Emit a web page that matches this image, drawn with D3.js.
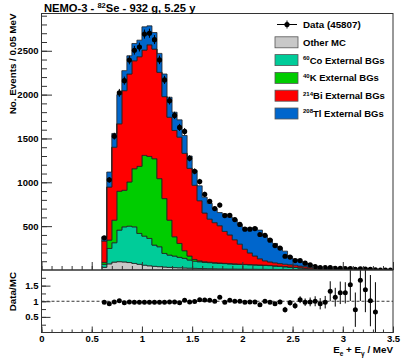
<!DOCTYPE html>
<html>
<head>
<meta charset="utf-8">
<script src="https://cdn.jsdelivr.net/npm/d3@7"></script>
<style>
  body { margin: 0; background: #fff; }
  svg text { font-family: "Liberation Sans", Arial, Helvetica, sans-serif; font-weight: bold; fill: #000; }
</style>
</head>
<body>
<div id="chart"></div>
<script>
// ビンの下端 (MeV), 幅 0.05
const binWidth = 0.05;
const binLow = [0.60, 0.65, 0.70, 0.75, 0.80, 0.85, 0.90, 0.95, 1.00, 1.05,
                1.10, 1.15, 1.20, 1.25, 1.30, 1.35, 1.40, 1.45, 1.50, 1.55,
                1.60, 1.65, 1.70, 1.75, 1.80, 1.85, 1.90, 1.95, 2.00, 2.05,
                2.10, 2.15, 2.20, 2.25, 2.30, 2.35, 2.40, 2.45, 2.50, 2.55,
                2.60, 2.65, 2.70, 2.75, 2.80, 2.85, 2.90, 2.95, 3.00, 3.05,
                3.10, 3.15, 3.20, 3.25, 3.30, 3.35, 3.40, 3.45];

// MC の各成分 (積み上げ前)
const otherMC = [30, 70, 90, 95, 92, 85, 75, 65, 55, 48,
                 42, 38, 34, 30, 27, 25, 23, 21, 19, 17,
                 16, 15, 14, 13, 12, 11, 11, 10, 10, 9,
                 9, 8, 8, 7, 7, 6, 6, 5, 5, 4,
                 4, 3, 3, 2, 2, 2, 1, 1, 1, 1,
                 1, 0, 0, 0, 0, 0, 0, 0];
const co60 = [35, 176, 221, 360, 400, 415, 417, 352, 331, 312,
              242, 227, 155, 140, 132, 119, 110, 93, 81, 77,
              72, 69, 66, 63, 61, 59, 56, 54, 52, 51,
              49, 48, 45, 43, 39, 36, 31, 28, 24, 20,
              15, 11, 6, 3, 1, 0, 0, 0, 0, 0,
              0, 0, 0, 0, 0, 0, 0, 0];
const k40 = [22, 95, 257, 443, 417, 504, 663, 765, 921, 935,
             985, 777, 625, 398, 220, 159, 87, 45, 20, 10,
             6, 5, 4, 4, 3, 3, 3, 3, 2, 2,
             2, 2, 2, 2, 2, 2, 2, 1, 1, 1,
             1, 1, 1, 1, 0, 0, 0, 0, 0, 0,
             0, 0, 0, 0, 0, 0, 0, 0];
const bi214 = [243, 605, 832, 769, 1136, 1231, 1231, 1250, 1201, 1273,
               1250, 1212, 1163, 1174, 1212, 1212, 1110, 1000, 846, 686,
               556, 491, 456, 425, 364, 327, 275, 228, 173, 133,
               100, 70, 50, 40, 34, 29, 27, 26, 25, 20,
               18, 15, 12, 10, 7, 4, 3, 2, 1, 1,
               1, 1, 1, 1, 1, 0, 0, 0];
const tl208 = [48, 171, 157, 333, 228, 208, 197, 189, 265, 216,
               189, 216, 258, 228, 208, 197, 204, 141, 170, 170,
               180, 180, 160, 150, 200, 205, 230, 225, 243, 280,
               322, 327, 290, 258, 221, 182, 149, 95, 70, 57,
               42, 30, 18, 14, 18, 14, 14, 12, 11, 9,
               7, 7, 6, 5, 4, 4, 3, 2];

// データ
const dataCounts = [367, 1028, 1526, 2020, 2159, 2394, 2506, 2542, 2690, 2700,
                    2627, 2396, 2168, 1931, 1763, 1626, 1580, 1274, 1125, 1008,
                    863, 783, 700, 740, 621, 623, 575, 520, 466, 466,
                    472, 405, 395, 340, 279, 250, 157, 147, 108, 107,
                    78, 59, 40, 28, 27, 26, 20, 19, 17, 17,
                    7, 13, 10, 6, 3, 0, 0, 0];

// Data/MC 比 (最初の 55 ビン)
const ratioVals = [0.97, 0.92, 0.98, 1.02, 0.95, 0.98, 0.97, 0.97, 0.97, 0.97,
                   0.97, 0.97, 0.97, 0.98, 0.98, 0.95, 1.03, 0.98, 0.99, 1.05,
                   1.04, 1.03, 1.00, 1.13, 0.97, 1.03, 1.00, 1.00, 0.97, 0.98,
                   0.98, 0.89, 1.00, 0.97, 0.92, 0.98, 0.73, 0.95, 0.86, 1.05,
                   0.97, 0.98, 1.00, 0.92, 0.97, 1.32, 1.13, 1.27, 1.27, 1.53,
                   0.73, 1.67, 1.37, 1.02, 0.66];
const ratioErr = [0.05, 0.03, 0.03, 0.03, 0.03, 0.03, 0.03, 0.03, 0.03, 0.03,
                  0.03, 0.03, 0.03, 0.03, 0.03, 0.03, 0.03, 0.03, 0.03, 0.03,
                  0.03, 0.03, 0.03, 0.03, 0.03, 0.03, 0.03, 0.03, 0.05, 0.05,
                  0.05, 0.05, 0.05, 0.06, 0.06, 0.07, 0.09, 0.09, 0.10, 0.11,
                  0.12, 0.14, 0.16, 0.18, 0.20, 0.32, 0.30, 0.36, 0.34, 0.52,
                  0.55, 0.66, 0.72, 0.82, 0.95];

const xTicks = [0, 0.5, 1, 1.5, 2, 2.5, 3, 3.5];
const yTicks = [500, 1000, 1500, 2000, 2500];
const rTicks = [0.5, 1, 1.5];

const legendSup = ["", "60", "40", "214", "208"];
const legendText = ["Other MC", "Co External BGs", "K External BGs", "Bi External BGs", "Tl External BGs"];
const keys = ["other", "co", "k", "bi", "tl"];
const colors = { other: "#c8c8c8", co: "#00cc99", k: "#00cc00", bi: "#ff0000", tl: "#0066cc" };

function drawChart() {
    const W = 415, H = 360;
    const left = 41.5, right = 393;
    const mainTop = 13.5, mainBottom = 270, ratioBottom = 332.5;

    const svg = d3.select("#chart").append("svg")
                  .attr("width", W).attr("height", H);

    const x = d3.scaleLinear().domain([0, 3.5]).range([left, right]);
    const y = d3.scaleLinear().domain([0, 2925]).range([mainBottom, mainTop]);
    const r = d3.scaleLinear().domain([0, 2]).range([ratioBottom, mainBottom]);

    const defs = svg.append("defs");
    defs.append("clipPath").attr("id", "clipMain")
        .append("rect").attr("x", left).attr("y", mainTop)
        .attr("width", right - left).attr("height", mainBottom - mainTop);
    defs.append("clipPath").attr("id", "clipRatio")
        .append("rect").attr("x", left).attr("y", mainBottom)
        .attr("width", right - left).attr("height", ratioBottom - mainBottom);

    // 積み上げヒストグラム
    const rows = binLow.map((b, i) => ({
        other: otherMC[i], co: co60[i], k: k40[i], bi: bi214[i], tl: tl208[i]
    }));
    const series = d3.stack().keys(keys)(rows);

    const area = d3.area()
                   .x(d => x(d.x))
                   .y0(d => y(d.y0))
                   .y1(d => y(d.y1))
                   .curve(d3.curveStepAfter);

    const gMain = svg.append("g").attr("clip-path", "url(#clipMain)");
    series.forEach(s => {
        const pts = s.map((d, i) => ({ x: binLow[i], y0: d[0], y1: d[1] }));
        const last = pts[pts.length - 1];
        pts.push({ x: last.x + binWidth, y0: last.y0, y1: last.y1 });
        gMain.append("path")
             .attr("d", area(pts))
             .attr("fill", colors[s.key])
             .attr("stroke", "#222")
             .attr("stroke-width", 0.8);
    });

    // データ点
    const pts = gMain.selectAll("g.data")
                     .data(dataCounts.map((v, i) => ({ c: binLow[i] + binWidth / 2, v: v })))
                     .enter().append("g").attr("class", "data");
    pts.append("line")
       .attr("x1", d => x(d.c)).attr("x2", d => x(d.c))
       .attr("y1", d => y(d.v + Math.sqrt(d.v)))
       .attr("y2", d => y(Math.max(0, d.v - Math.sqrt(d.v))))
       .attr("stroke", "#000").attr("stroke-width", 1);
    pts.append("circle")
       .attr("cx", d => x(d.c)).attr("cy", d => y(d.v))
       .attr("r", 2.6).attr("fill", "#000");

    // 比のパネル
    const gRatio = svg.append("g").attr("clip-path", "url(#clipRatio)");
    gRatio.append("line")
          .attr("x1", left).attr("x2", right)
          .attr("y1", r(1)).attr("y2", r(1))
          .attr("stroke", "#000").attr("stroke-width", 0.8)
          .attr("stroke-dasharray", "3,2");
    const rp = gRatio.selectAll("g.ratio")
                     .data(ratioVals.map((v, i) => ({ c: binLow[i] + binWidth / 2, v: v, e: ratioErr[i] })))
                     .enter().append("g").attr("class", "ratio");
    rp.append("line")
      .attr("x1", d => x(d.c)).attr("x2", d => x(d.c))
      .attr("y1", d => r(d.v + d.e)).attr("y2", d => r(d.v - d.e))
      .attr("stroke", "#000").attr("stroke-width", 1);
    rp.append("circle")
      .attr("cx", d => x(d.c)).attr("cy", d => r(d.v))
      .attr("r", 2.5).attr("fill", "#000");

    // 軸 (目盛りは内側)
    const fmt = d => String(d);
    const xMinor = d3.range(0, 36).map(i => i / 10);
    const yMinor = d3.range(100, 2925, 100);
    const rMinor = [0.25, 0.5, 0.75, 1, 1.25, 1.5, 1.75];

    function styleAxis(g) {
        g.select(".domain").remove();
        g.selectAll("line").attr("stroke", "#333");
        g.selectAll("text").attr("font-size", "9.5px").attr("fill", "#000");
    }

    svg.append("g").attr("transform", `translate(${left},0)`)
       .call(d3.axisLeft(y).tickValues(yMinor).tickSize(-5.5).tickFormat(""))
       .call(styleAxis);
    svg.append("g").attr("transform", `translate(${left},0)`)
       .call(d3.axisLeft(y).tickValues(yTicks).tickSize(-10.5).tickPadding(3).tickFormat(fmt))
       .call(styleAxis);

    svg.append("g").attr("transform", `translate(0,${mainBottom})`)
       .call(d3.axisBottom(x).tickValues(xMinor).tickSize(-4).tickFormat(""))
       .call(styleAxis);
    svg.append("g").attr("transform", `translate(0,${mainBottom})`)
       .call(d3.axisBottom(x).tickValues(xTicks).tickSize(-8).tickFormat(""))
       .call(styleAxis);

    svg.append("g").attr("transform", `translate(${left},0)`)
       .call(d3.axisLeft(r).tickValues(rMinor).tickSize(-4.5).tickFormat(""))
       .call(styleAxis);
    svg.append("g").attr("transform", `translate(${left},0)`)
       .call(d3.axisLeft(r).tickValues(rTicks).tickSize(-9).tickPadding(3).tickFormat(fmt))
       .call(styleAxis);

    svg.append("g").attr("transform", `translate(0,${ratioBottom})`)
       .call(d3.axisBottom(x).tickValues(xMinor).tickSize(-3).tickFormat(""))
       .call(styleAxis);
    svg.append("g").attr("transform", `translate(0,${ratioBottom})`)
       .call(d3.axisBottom(x).tickValues(xTicks).tickSize(-6).tickPadding(3).tickFormat(fmt))
       .call(styleAxis);

    // 枠
    svg.append("rect").attr("x", left).attr("y", mainTop)
       .attr("width", right - left).attr("height", mainBottom - mainTop)
       .attr("fill", "none").attr("stroke", "#333").attr("stroke-width", 1);
    svg.append("rect").attr("x", left).attr("y", mainBottom)
       .attr("width", right - left).attr("height", ratioBottom - mainBottom)
       .attr("fill", "none").attr("stroke", "#333").attr("stroke-width", 1);

    // タイトル
    const title = svg.append("text").attr("x", 44).attr("y", 11.5).attr("font-size", "11.2px");
    title.append("tspan").text("NEMO-3 - ");
    title.append("tspan").attr("font-size", "7.5px").attr("dy", -4).text("82");
    title.append("tspan").attr("dy", 4).text("Se - 932 g, 5.25 y");

    svg.append("text")
       .attr("transform", `translate(15.5,${mainTop}) rotate(-90)`)
       .attr("text-anchor", "end").attr("font-size", "9.8px")
       .text("No. Events / 0.05 MeV");
    svg.append("text")
       .attr("transform", `translate(15.5,${mainBottom + 2}) rotate(-90)`)
       .attr("text-anchor", "end").attr("font-size", "9.8px")
       .text("Data/MC");

    const xt = svg.append("text").attr("x", right).attr("y", 353)
                  .attr("text-anchor", "end").attr("font-size", "9.8px");
    xt.append("tspan").text("E");
    xt.append("tspan").attr("font-size", "6.5px").attr("dy", 2.5).text("e");
    xt.append("tspan").attr("dy", -2.5).text(" + E");
    xt.append("tspan").attr("font-size", "6.5px").attr("dy", 2.5).text("γ");
    xt.append("tspan").attr("dy", -2.5).text(" / MeV");

    // 凡例
    const lx = 275, ly0 = 24.5, dy = 17.8;
    const lg = svg.append("g");
    lg.append("line").attr("x1", lx + 2).attr("x2", lx + 22)
      .attr("y1", ly0).attr("y2", ly0).attr("stroke", "#000").attr("stroke-width", 1);
    lg.append("line").attr("x1", lx + 12).attr("x2", lx + 12)
      .attr("y1", ly0 - 4).attr("y2", ly0 + 4).attr("stroke", "#000").attr("stroke-width", 1);
    lg.append("circle").attr("cx", lx + 12).attr("cy", ly0).attr("r", 2.6).attr("fill", "#000");
    lg.append("text").attr("x", lx + 28).attr("y", ly0 + 3.4).attr("font-size", "9.8px").text("Data (45807)");

    keys.forEach((k, i) => {
        const cy = ly0 + dy * (i + 1);
        lg.append("rect").attr("x", lx).attr("y", cy - 5.5)
          .attr("width", 23).attr("height", 11)
          .attr("fill", colors[k]).attr("stroke", "#555").attr("stroke-width", 0.8);
        const t = lg.append("text").attr("x", lx + 28).attr("y", cy + 3.4).attr("font-size", "9.5px");
        if (legendSup[i]) {
            t.append("tspan").attr("font-size", "6px").attr("dy", -3.5).text(legendSup[i]);
            t.append("tspan").attr("dy", 3.5).text(legendText[i]);
        } else {
            t.text(legendText[i]);
        }
    });
}

document.addEventListener("DOMContentLoaded", drawChart);
</script>
</body>
</html>
